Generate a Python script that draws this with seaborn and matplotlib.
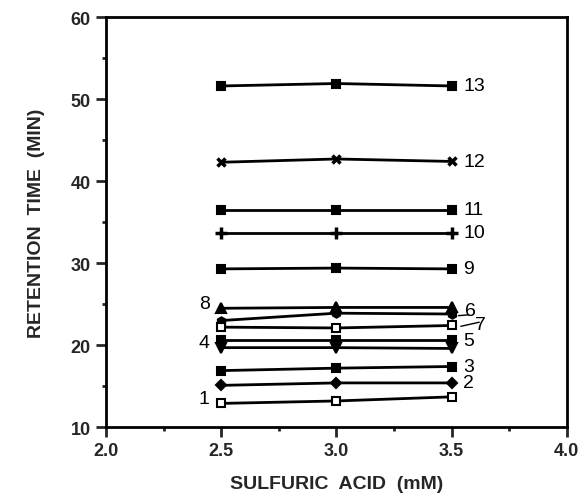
import numpy as np
import pandas as pd
import seaborn as sns
import matplotlib.pyplot as plt
from matplotlib.ticker import MultipleLocator, FormatStrFormatter

sns.set_style('ticks')
plt.rcParams['font.family'] = ['Liberation Sans', 'DejaVu Sans']

# sulfuric acid concentration (mM)
acid = [2.5, 3.0, 3.5]

# retention times (min) for each peak
peaks = ['1', '2', '3', '4', '5', '6', '7', '8', '9', '10', '11', '12', '13']
rt_1 = [12.9, 13.2, 13.7]
rt_2 = [15.1, 15.4, 15.4]
rt_3 = [16.9, 17.2, 17.4]
rt_4 = [19.7, 19.7, 19.6]
rt_5 = [20.6, 20.6, 20.6]
rt_6 = [23.0, 23.9, 23.8]
rt_7 = [22.2, 22.1, 22.4]
rt_8 = [24.5, 24.6, 24.6]
rt_9 = [29.3, 29.4, 29.3]
rt_10 = [33.7, 33.7, 33.7]
rt_11 = [36.5, 36.5, 36.5]
rt_12 = [42.3, 42.7, 42.4]
rt_13 = [51.6, 51.9, 51.6]
all_rt = [rt_1, rt_2, rt_3, rt_4, rt_5, rt_6, rt_7, rt_8, rt_9, rt_10, rt_11, rt_12, rt_13]

markers = {'1': 's', '2': 'D', '3': 's', '4': 'v', '5': 's', '6': 'h', '7': 's',
           '8': '^', '9': 's', '10': '+', '11': 's', '12': 'x', '13': 's'}
msizes = {'1': 5.5, '2': 5, '3': 6, '4': 7, '5': 6, '6': 6, '7': 5.5,
          '8': 7, '9': 6, '10': 8, '11': 6, '12': 6, '13': 6}

df = pd.DataFrame({
    'acid': acid * len(peaks),
    'rt': np.concatenate(all_rt),
    'peak': np.repeat(peaks, len(acid)),
})

fig = plt.figure(figsize=(5.85, 5.02), dpi=100)
ax = fig.add_axes([0.181, 0.147, 0.788, 0.817])

for p in peaks:
    sub = df[df['peak'] == p]
    face = 'white' if p in ('1', '7') else 'black'
    mew = 2.5 if p in ('10', '12') else 1.5
    sns.lineplot(data=sub, x='acid', y='rt', ax=ax, color='black', linewidth=2,
                 marker=markers[p], markersize=msizes[p], markerfacecolor=face,
                 markeredgecolor='black', markeredgewidth=mew)

# peak labels
lab_font = dict(fontsize=14, color='black', va='center')
for p, vals in zip(peaks, all_rt):
    if p in ('1', '4', '8'):
        ax.text(2.45, vals[0] + 0.6, p, ha='right', **lab_font)
    elif p == '6':
        ax.text(3.56, vals[2] + 0.4, p, ha='left', **lab_font)
        ax.plot([3.53, 3.575], [vals[2] - 0.2, vals[2] - 0.1], color='black', lw=1)
    elif p == '7':
        ax.text(3.6, vals[2] + 0.1, p, ha='left', **lab_font)
        ax.plot([3.54, 3.62], [vals[2] - 0.1, vals[2] + 0.4], color='black', lw=1)
    else:
        ax.text(3.55, vals[2], p, ha='left', **lab_font)

ax.set_xlim(2.0, 4.0)
ax.set_ylim(10, 60)
ax.xaxis.set_major_locator(MultipleLocator(0.5))
ax.xaxis.set_minor_locator(MultipleLocator(0.25))
ax.yaxis.set_major_locator(MultipleLocator(10))
ax.yaxis.set_minor_locator(MultipleLocator(5))
ax.xaxis.set_major_formatter(FormatStrFormatter('%.1f'))
ax.tick_params(which='major', direction='out', length=7, width=2, labelsize=13, pad=4)
ax.tick_params(which='minor', direction='out', length=3, width=2)
for lab in ax.get_xticklabels() + ax.get_yticklabels():
    lab.set_fontweight('bold')
for s in ax.spines.values():
    s.set_visible(True)
    s.set_linewidth(2)
    s.set_color('black')

ax.set_xlabel('SULFURIC  ACID  (mM)', fontsize=14, fontweight='bold', labelpad=11)
ax.set_ylabel('RETENTION  TIME  (MIN)', fontsize=14, fontweight='bold', labelpad=18)

plt.savefig('out.png', dpi=100)
